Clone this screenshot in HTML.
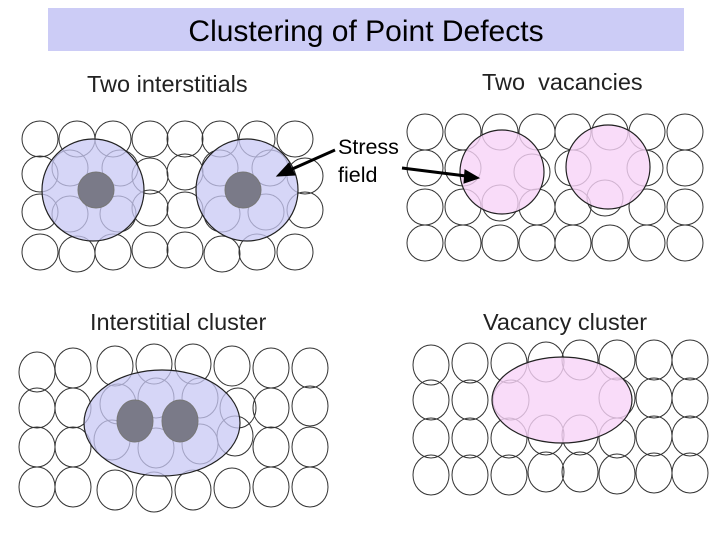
<!DOCTYPE html>
<html><head><style>
body{margin:0;background:#fff;}
svg{display:block;font-family:"Liberation Sans",Arial,sans-serif;}
</style></head><body>
<svg width="720" height="540" viewBox="0 0 720 540" xmlns="http://www.w3.org/2000/svg">
<rect width="720" height="540" fill="#fff"/>
<rect x="48" y="8" width="636" height="43" fill="#ccccf6"/>
<text x="366" y="41" font-size="30" text-anchor="middle" fill="#000">Clustering of Point Defects</text>
<g font-size="23.5" fill="#222">
<text x="87" y="92">Two interstitials</text>
<text x="482" y="90" xml:space="preserve">Two  vacancies</text>
<text x="90" y="330">Interstitial cluster</text>
<text x="483" y="330">Vacancy cluster</text>
</g>
<g fill="none" stroke="#333" stroke-width="1">
<circle cx="40" cy="139" r="18"/><circle cx="77" cy="139" r="18"/><circle cx="113" cy="139" r="18"/><circle cx="150" cy="139" r="18"/><circle cx="185" cy="139" r="18"/><circle cx="220" cy="139" r="18"/><circle cx="257" cy="139" r="18"/><circle cx="295" cy="139" r="18"/>
<circle cx="40" cy="174" r="18"/><circle cx="70" cy="168" r="18"/><circle cx="120" cy="168" r="18"/><circle cx="150" cy="176" r="18"/><circle cx="185" cy="172" r="18"/><circle cx="220" cy="168" r="18"/><circle cx="270" cy="168" r="18"/><circle cx="305" cy="176" r="18"/>
<circle cx="40" cy="212" r="18"/><circle cx="70" cy="214" r="18"/><circle cx="118" cy="214" r="18"/><circle cx="150" cy="208" r="18"/><circle cx="185" cy="210" r="18"/><circle cx="222" cy="214" r="18"/><circle cx="266" cy="212" r="18"/><circle cx="305" cy="210" r="18"/>
<circle cx="40" cy="252" r="18"/><circle cx="77" cy="254" r="18"/><circle cx="113" cy="252" r="18"/><circle cx="150" cy="250" r="18"/><circle cx="185" cy="250" r="18"/><circle cx="222" cy="254" r="18"/><circle cx="257" cy="252" r="18"/><circle cx="295" cy="252" r="18"/>
<circle cx="425" cy="132" r="18"/><circle cx="463" cy="132" r="18"/><circle cx="500" cy="132" r="18"/><circle cx="537" cy="132" r="18"/><circle cx="573" cy="132" r="18"/><circle cx="610" cy="132" r="18"/><circle cx="647" cy="132" r="18"/><circle cx="685" cy="132" r="18"/>
<circle cx="425" cy="168" r="18"/><circle cx="463" cy="168" r="18"/><circle cx="532" cy="172" r="18"/><circle cx="573" cy="168" r="18"/><circle cx="645" cy="168" r="18"/><circle cx="685" cy="168" r="18"/>
<circle cx="425" cy="207" r="18"/><circle cx="463" cy="207" r="18"/><circle cx="500" cy="203" r="18"/><circle cx="537" cy="207" r="18"/><circle cx="573" cy="207" r="18"/><circle cx="605" cy="198" r="18"/><circle cx="647" cy="207" r="18"/><circle cx="685" cy="207" r="18"/>
<circle cx="425" cy="243" r="18"/><circle cx="463" cy="243" r="18"/><circle cx="500" cy="243" r="18"/><circle cx="537" cy="243" r="18"/><circle cx="573" cy="243" r="18"/><circle cx="610" cy="243" r="18"/><circle cx="647" cy="243" r="18"/><circle cx="685" cy="243" r="18"/>
<ellipse cx="37" cy="372" rx="18" ry="20"/><ellipse cx="73" cy="368" rx="18" ry="20"/><ellipse cx="115" cy="366" rx="18" ry="20"/><ellipse cx="154" cy="364" rx="18" ry="20"/><ellipse cx="193" cy="364" rx="18" ry="20"/><ellipse cx="232" cy="366" rx="18" ry="20"/><ellipse cx="271" cy="368" rx="18" ry="20"/><ellipse cx="310" cy="368" rx="18" ry="20"/>
<ellipse cx="37" cy="408" rx="18" ry="20"/><ellipse cx="73" cy="408" rx="18" ry="20"/><ellipse cx="118" cy="404" rx="18" ry="20"/><ellipse cx="156" cy="398" rx="18" ry="20"/><ellipse cx="200" cy="398" rx="18" ry="20"/><ellipse cx="238" cy="408" rx="18" ry="20"/><ellipse cx="271" cy="408" rx="18" ry="20"/><ellipse cx="310" cy="406" rx="18" ry="20"/>
<ellipse cx="37" cy="447" rx="18" ry="20"/><ellipse cx="73" cy="447" rx="18" ry="20"/><ellipse cx="112" cy="440" rx="18" ry="20"/><ellipse cx="156" cy="448" rx="18" ry="20"/><ellipse cx="200" cy="444" rx="18" ry="20"/><ellipse cx="235" cy="436" rx="18" ry="20"/><ellipse cx="271" cy="447" rx="18" ry="20"/><ellipse cx="310" cy="447" rx="18" ry="20"/>
<ellipse cx="37" cy="487" rx="18" ry="20"/><ellipse cx="73" cy="487" rx="18" ry="20"/><ellipse cx="115" cy="490" rx="18" ry="20"/><ellipse cx="154" cy="492" rx="18" ry="20"/><ellipse cx="193" cy="490" rx="18" ry="20"/><ellipse cx="232" cy="488" rx="18" ry="20"/><ellipse cx="271" cy="487" rx="18" ry="20"/><ellipse cx="310" cy="487" rx="18" ry="20"/>
<ellipse cx="431" cy="365" rx="18" ry="20"/><ellipse cx="470" cy="363" rx="18" ry="20"/><ellipse cx="509" cy="363" rx="18" ry="20"/><ellipse cx="546" cy="362" rx="18" ry="20"/><ellipse cx="580" cy="360" rx="18" ry="20"/><ellipse cx="617" cy="360" rx="18" ry="20"/><ellipse cx="654" cy="360" rx="18" ry="20"/><ellipse cx="690" cy="360" rx="18" ry="20"/>
<ellipse cx="431" cy="400" rx="18" ry="20"/><ellipse cx="470" cy="400" rx="18" ry="20"/><ellipse cx="511" cy="400" rx="18" ry="20"/><ellipse cx="617" cy="398" rx="18" ry="20"/><ellipse cx="654" cy="398" rx="18" ry="20"/><ellipse cx="690" cy="398" rx="18" ry="20"/>
<ellipse cx="431" cy="438" rx="18" ry="20"/><ellipse cx="470" cy="438" rx="18" ry="20"/><ellipse cx="509" cy="438" rx="18" ry="20"/><ellipse cx="546" cy="435" rx="18" ry="20"/><ellipse cx="580" cy="435" rx="18" ry="20"/><ellipse cx="617" cy="438" rx="18" ry="20"/><ellipse cx="654" cy="436" rx="18" ry="20"/><ellipse cx="690" cy="436" rx="18" ry="20"/>
<ellipse cx="431" cy="475" rx="18" ry="20"/><ellipse cx="470" cy="475" rx="18" ry="20"/><ellipse cx="509" cy="475" rx="18" ry="20"/><ellipse cx="546" cy="472" rx="18" ry="20"/><ellipse cx="580" cy="472" rx="18" ry="20"/><ellipse cx="617" cy="474" rx="18" ry="20"/><ellipse cx="654" cy="473" rx="18" ry="20"/><ellipse cx="690" cy="473" rx="18" ry="20"/>
</g>
<g stroke="#222" stroke-width="1.2">
<circle cx="93" cy="190" r="51" fill="#c8c8f4" fill-opacity="0.75"/>
<circle cx="247" cy="190" r="51" fill="#c8c8f4" fill-opacity="0.75"/>
<circle cx="502" cy="172" r="42" fill="#f7d3f7" fill-opacity="0.8"/>
<circle cx="608" cy="167" r="42" fill="#f7d3f7" fill-opacity="0.8"/>
<ellipse cx="162" cy="423" rx="78" ry="53" fill="#c8c8f4" fill-opacity="0.75"/>
<ellipse cx="562" cy="400" rx="70" ry="43" fill="#f7d3f7" fill-opacity="0.8"/>
</g>
<g fill="#7a7a88" stroke="#777" stroke-width="1">
<circle cx="96" cy="190" r="18"/>
<circle cx="243" cy="190" r="18"/>
<ellipse cx="135" cy="421" rx="18" ry="21"/>
<ellipse cx="180" cy="421" rx="18" ry="21"/>
</g>
<g font-size="21.5" fill="#000">
<text x="338" y="154">Stress</text>
<text x="338" y="182">field</text>
</g>
<g stroke="#000" stroke-width="3" fill="#000">
<line x1="335" y1="150" x2="290" y2="170"/>
<polygon points="277,176 289,163 295,175" stroke-width="1"/>
<line x1="402" y1="168" x2="466" y2="176"/>
<polygon points="479,178 465,170 464,183" stroke-width="1"/>
</g>
</svg>
</body></html>
